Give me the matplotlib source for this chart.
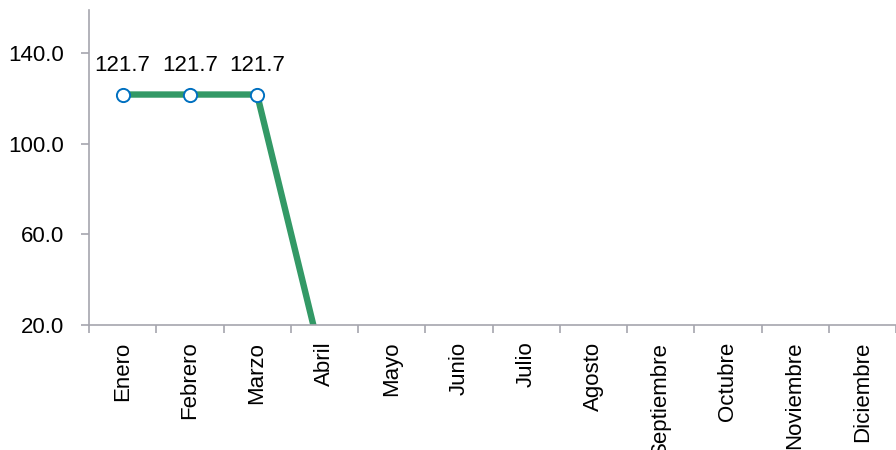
import numpy as np
import matplotlib
matplotlib.use("Agg")
import matplotlib.pyplot as plt

plt.rcParams['font.family'] = ['Liberation Sans', 'DejaVu Sans']

months = ['Enero', 'Febrero', 'Marzo', 'Abril', 'Mayo', 'Junio', 'Julio',
          'Agosto', 'Septiembre', 'Octubre', 'Noviembre', 'Diciembre']
values = [121.7, 121.7, 121.7, 0.0, None, None, None, None, None, None, None, None]
labelled = [0, 1, 2]  # points that carry a data label
yticks = [20, 60, 100, 140]

axis_grey = '#A6A6AE'
green = '#339966'
blue = '#0070C0'
fs = 16

fig = plt.figure(figsize=(8.96, 4.5), dpi=100)
ax = fig.add_axes([89/896, 125/450, 1 - 89/896, 315/450])

x = np.arange(len(months))
y = np.array([np.nan if v is None else v for v in values], dtype=float)
ax.plot(x, y, color=green, lw=4.6, solid_joinstyle='miter', zorder=2)
ax.plot(x[labelled], y[labelled], 'o', ms=9.5, mfc='white', mec=blue, mew=1.4,
        zorder=3, clip_on=False)
for i in labelled:
    ax.annotate(f'{values[i]:.1f}', (x[i], y[i]), xytext=(0, 13),
                textcoords='offset points', ha='center', va='bottom',
                fontsize=fs, color='black')

ax.set_xlim(-0.5, -0.5 + (896 - 89) / 68)
ax.set_ylim(20, 159)
ax.set_yticks(yticks)
ax.set_yticklabels([f'{t:.1f}' for t in yticks])
ax.set_xticks(x)
ax.set_xticklabels(months, rotation=90, va='top', ha='center')
ax.set_xticks(np.arange(-0.5, len(months), 1), minor=True)

for s in ['top', 'right']:
    ax.spines[s].set_visible(False)
for s in ['left', 'bottom']:
    ax.spines[s].set_color(axis_grey)
    ax.spines[s].set_linewidth(1.2)

ax.tick_params(axis='y', direction='out', length=6, width=1.2, color=axis_grey,
               labelsize=fs, pad=12)
ax.tick_params(axis='x', which='major', length=0, labelsize=fs, pad=12)
ax.tick_params(axis='x', which='minor', direction='out', length=6, width=1.2,
               color=axis_grey)

fig.savefig('out.png', dpi=100)
